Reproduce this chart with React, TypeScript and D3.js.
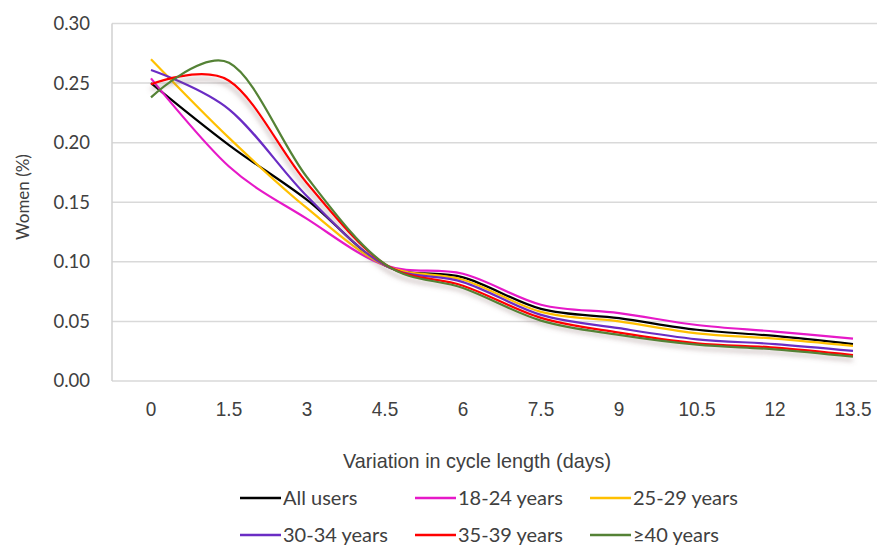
import React from 'react';
import * as d3 from 'd3';

const days = [0, 1.5, 3, 4.5, 6, 7.5, 9, 10.5, 12, 13.5];
const yTicks = [0, 0.05, 0.1, 0.15, 0.2, 0.25, 0.3];

const allUsers = [0.25, 0.198, 0.152, 0.097, 0.087, 0.0605, 0.0527, 0.043, 0.0378, 0.031];
const age18to24 = [0.254, 0.18, 0.136, 0.097, 0.09, 0.064, 0.057, 0.047, 0.0415, 0.0356];
const age25to29 = [0.27, 0.204, 0.145, 0.097, 0.085, 0.058, 0.05, 0.04, 0.0356, 0.0294];
const age30to34 = [0.261, 0.228, 0.155, 0.097, 0.083, 0.0555, 0.0443, 0.035, 0.031, 0.0252];
const age35to39 = [0.249, 0.252, 0.166, 0.098, 0.08, 0.053, 0.0406, 0.0317, 0.028, 0.0218];
const age40plus = [0.238, 0.267, 0.171, 0.098, 0.078, 0.0507, 0.0387, 0.0305, 0.0266, 0.0204];

const series = [
  { name: 'All users', values: allUsers, color: '#000000' },
  { name: '18-24 years', values: age18to24, color: '#e619c8' },
  { name: '25-29 years', values: age25to29, color: '#ffc000' },
  { name: '30-34 years', values: age30to34, color: '#6a2cc4' },
  { name: '35-39 years', values: age35to39, color: '#ff0000', shadow: true },
  { name: '≥40 years', values: age40plus, color: '#548235' },
];

const W = 877;
const H = 547;
const plotLeft = 112;
const plotTop = 23.5;
const plotBottom = 381;

const calibri = "Lato, 'Open Sans', sans-serif";
const narrow = "'Liberation Sans', Arial, sans-serif";
const squeeze = 0.95;

export default function App() {
  const x = d3.scaleLinear().domain([-0.75, 14.25]).range([plotLeft, plotLeft + 780]);
  const y = d3.scaleLinear().domain([0, 0.3]).range([plotBottom, plotTop]);

  const line = d3
    .line<number>()
    .x((_, i) => x(days[i]))
    .y((d) => y(d))
    .curve(d3.curveCardinal.tension(0));

  const legendCols = [240, 415, 590];
  const legendRows = [498, 535];

  return (
    <svg width={W} height={H} style={{ position: 'absolute', left: 0, top: 0, background: '#fff' }}>
      <defs>
        <filter id="shadow" x="-10%" y="-20%" width="120%" height="160%">
          <feGaussianBlur in="SourceAlpha" stdDeviation="2.5" />
          <feOffset dx="0" dy="4.5" result="blur" />
          <feFlood floodColor="#7a5a5a" floodOpacity="0.55" />
          <feComposite in2="blur" operator="in" result="sh" />
          <feMerge>
            <feMergeNode in="sh" />
            <feMergeNode in="SourceGraphic" />
          </feMerge>
        </filter>
      </defs>

      {/* grid */}
      {yTicks.map((t) => (
        <line key={t} x1={plotLeft} x2={W} y1={y(t)} y2={y(t)} stroke="#d9d9d9" strokeWidth={1.5} />
      ))}
      <line x1={plotLeft} x2={plotLeft} y1={plotTop} y2={plotBottom} stroke="#d0d0d0" strokeWidth={1.5} />

      {/* y ticks */}
      {yTicks.map((t) => (
        <text key={t} x={90} y={y(t)} dy="0.35em" textAnchor="end" fontFamily={calibri} fontSize={18.5} fill="#404040">
          {d3.format('.2f')(t)}
        </text>
      ))}
      <text
        transform="translate(23,197) rotate(-90)"
        textAnchor="middle"
        dy="0.35em"
        fontFamily={calibri}
        fontSize={17}
        fill="#404040"
      >
        Women (%)
      </text>

      {/* x ticks */}
      {days.map((d) => (
        <text
          key={d}
          transform={`translate(${x(d)},409) scale(${squeeze},1)`}
          dy="0.35em"
          textAnchor="middle"
          fontFamily={narrow}
          fontSize={20}
          fill="#404040"
        >
          {d}
        </text>
      ))}
      <text
        transform="translate(477,461) scale(0.99,1)"
        dy="0.35em"
        textAnchor="middle"
        fontFamily={narrow}
        fontSize={20}
        fill="#404040"
      >
        Variation in cycle length (days)
      </text>

      {/* lines */}
      {series.map((s) => (
        <path
          key={s.name}
          d={line(s.values) || ''}
          fill="none"
          stroke={s.color}
          strokeWidth={2.2}
          filter={s.shadow ? 'url(#shadow)' : undefined}
        />
      ))}

      {/* legend */}
      {series.map((s, i) => {
        const lx = legendCols[i % 3];
        const ly = legendRows[Math.floor(i / 3)];
        return (
          <g key={s.name} transform={`translate(${lx},${ly})`}>
            <line x1={0} x2={41} y1={0} y2={0} stroke={s.color} strokeWidth={2.5} />
            <text x={43} y={0} dy="0.35em" fontFamily={calibri} fontSize={20} fill="#404040">
              {s.name}
            </text>
          </g>
        );
      })}
    </svg>
  );
}
